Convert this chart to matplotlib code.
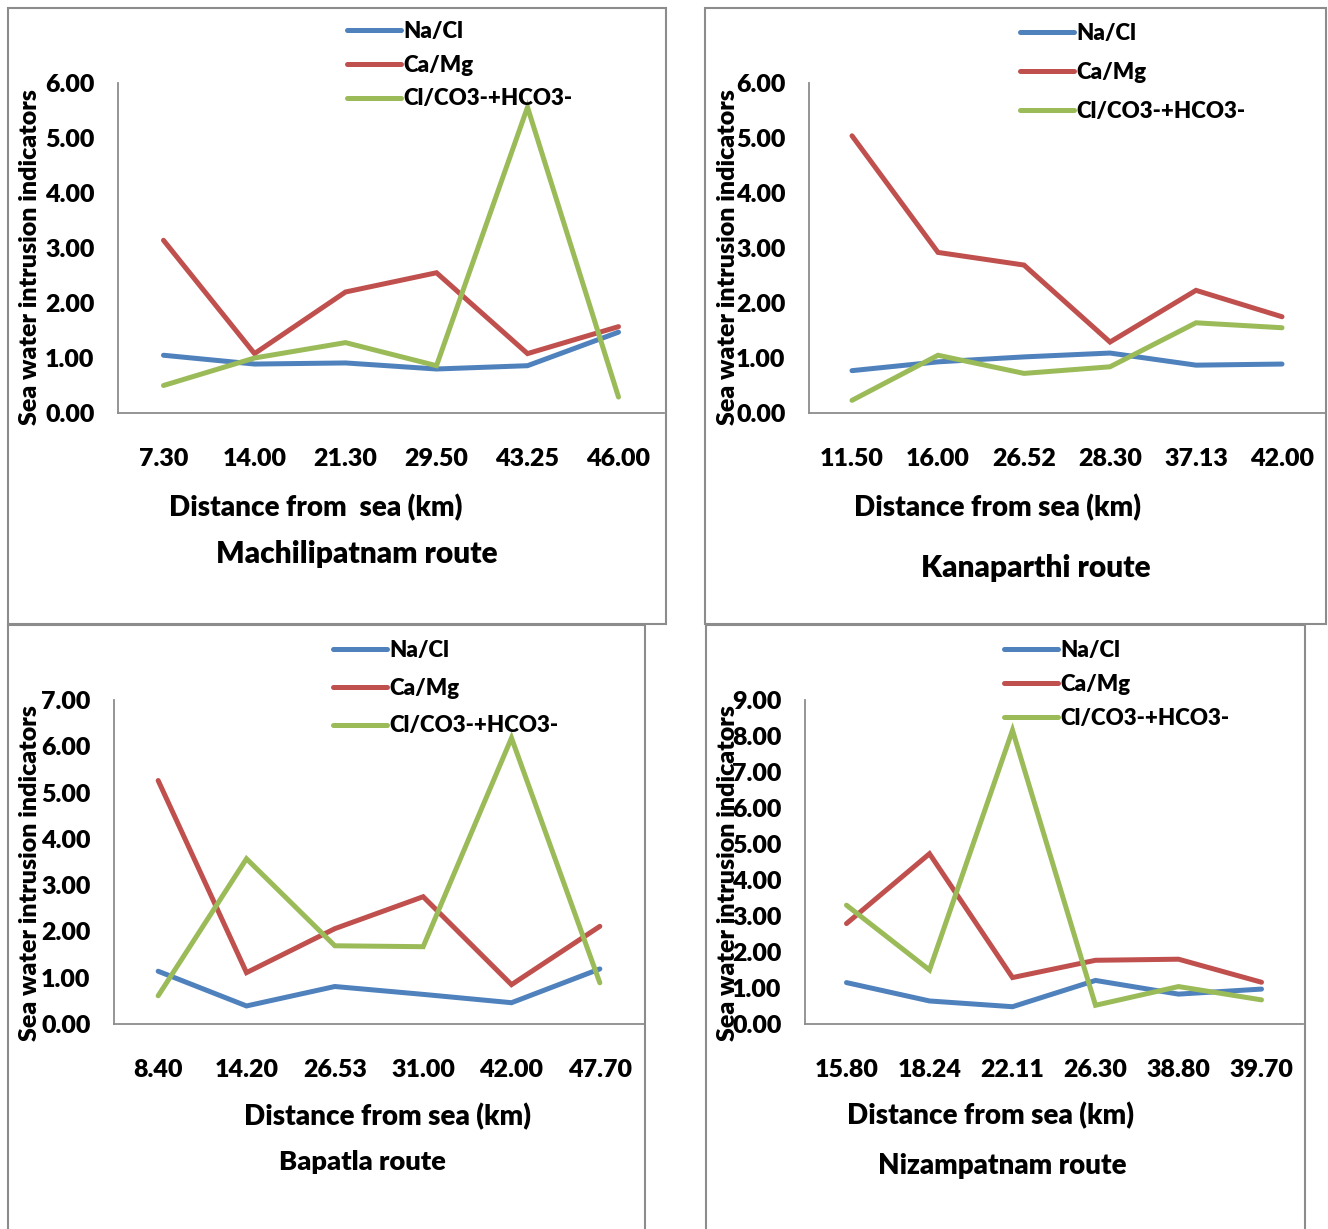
import matplotlib.pyplot as plt
from matplotlib.patches import Rectangle

# ---- dados ----
series_names = ['Na/Cl', 'Ca/Mg', 'Cl/CO3-+HCO3-']
series_colors = ['#4F81BD', '#C0504D', '#9BBB59']

mach_dist = ['7.30', '14.00', '21.30', '29.50', '43.25', '46.00']
mach_nacl = [1.05, 0.89, 0.91, 0.80, 0.86, 1.47]
mach_camg = [3.14, 1.08, 2.20, 2.55, 1.08, 1.57]
mach_clco3 = [0.50, 1.00, 1.28, 0.86, 5.56, 0.29]

kana_dist = ['11.50', '16.00', '26.52', '28.30', '37.13', '42.00']
kana_nacl = [0.77, 0.93, 1.02, 1.09, 0.87, 0.89]
kana_camg = [5.04, 2.92, 2.69, 1.29, 2.23, 1.75]
kana_clco3 = [0.23, 1.05, 0.72, 0.84, 1.64, 1.55]

bapa_dist = ['8.40', '14.20', '26.53', '31.00', '42.00', '47.70']
bapa_nacl = [1.14, 0.39, 0.81, 0.64, 0.46, 1.19]
bapa_camg = [5.26, 1.11, 2.06, 2.75, 0.85, 2.11]
bapa_clco3 = [0.61, 3.57, 1.69, 1.67, 6.18, 0.89]

niza_dist = ['15.80', '18.24', '22.11', '26.30', '38.80', '39.70']
niza_nacl = [1.15, 0.64, 0.48, 1.21, 0.83, 0.97]
niza_camg = [2.79, 4.73, 1.29, 1.77, 1.80, 1.16]
niza_clco3 = [3.30, 1.50, 8.16, 0.52, 1.04, 0.67]

W, H = 1328, 1229
PESO = 'heavy'
plt.rcParams.update({
    'font.family': ['Lato', 'DejaVu Sans'],
    'font.weight': PESO,
})

fig = plt.figure(figsize=(W / 100, H / 100), dpi=100)


def fx(px):
    return px / W


def fy(py):
    return 1 - py / H


def painel(box, eixo, dist, valores, ymax, xlabel, titulo, leg):
    # moldura do painel
    bl, bt, br, bb = box
    fig.add_artist(Rectangle((fx(bl), fy(bb)), (br - bl) / W, (bb - bt) / H,
                             transform=fig.transFigure, fill=False,
                             edgecolor='#8c8c8c', linewidth=1.5))
    l, t, r, b = eixo
    ax = fig.add_axes([fx(l), fy(b), (r - l) / W, (b - t) / H])
    x = range(len(dist))
    linhas = []
    for vals, cor, nome in zip(valores, series_colors, series_names):
        ln, = ax.plot(x, vals, color=cor, linewidth=3.6, label=nome,
                      solid_capstyle='round', solid_joinstyle='miter')
        ln.set_clip_on(False)
        linhas.append(ln)
    ax.set_xlim(-0.5, len(dist) - 0.5)
    ax.set_ylim(0, ymax)
    ax.set_xticks(list(x))
    ax.set_xticklabels(dist, fontweight=PESO)
    ax.set_yticks(range(0, ymax + 1))
    ax.set_yticklabels(['%.2f' % v for v in range(0, ymax + 1)], fontweight=PESO)
    ax.tick_params(length=0, labelsize=18)
    ax.tick_params(axis='x', pad=25)
    ax.tick_params(axis='y', pad=17)
    for s in ['top', 'right']:
        ax.spines[s].set_visible(False)
    for s in ['left', 'bottom']:
        ax.spines[s].set_color('#8c8c8c')
        ax.spines[s].set_linewidth(1.3)
    ax.patch.set_alpha(0)

    # rótulos e título
    yl = leg['ylab']
    fig.text(fx(yl[0]), fy(yl[1]), 'Sea water intrusion indicators', rotation=90,
             ha='center', va='center', fontsize=18, fontweight=PESO)
    xl = leg['xlab']
    fig.text(fx(xl[0]), fy(xl[1]), xlabel, ha='center', va='center',
             fontsize=20, fontweight=PESO)
    tt = leg['title']
    fig.text(fx(tt[0]), fy(tt[1]), titulo, ha='center', va='center',
             fontsize=leg['title_fs'], fontweight=PESO)

    # legenda
    lx, ly = leg['pos']
    fig.legend(handles=linhas, loc='upper left', bbox_to_anchor=(fx(lx), fy(ly)),
               bbox_transform=fig.transFigure, frameon=False,
               handlelength=2.45, handletextpad=0.1, borderpad=0, borderaxespad=0,
               labelspacing=leg['spacing'], prop={'weight': PESO, 'size': 16})
    return ax


painel((8, 8, 666, 624), (118, 83, 664, 413), mach_dist,
       [mach_nacl, mach_camg, mach_clco3], 6,
       'Distance from  sea (km)', 'Machilipatnam route',
       {'ylab': (30, 257), 'xlab': (316, 508), 'title': (357, 554), 'title_fs': 21.5,
        'pos': (347, 21), 'spacing': 0.57})

painel((705, 8, 1326, 624), (809, 83, 1325, 413), kana_dist,
       [kana_nacl, kana_camg, kana_clco3], 6,
       'Distance from sea (km)', 'Kanaparthi route',
       {'ylab': (728, 257), 'xlab': (997, 508), 'title': (1036, 568), 'title_fs': 21.5,
        'pos': (1020, 23), 'spacing': 0.8})

painel((8, 625, 645, 1232), (114, 700, 644, 1024), bapa_dist,
       [bapa_nacl, bapa_camg, bapa_clco3], 7,
       'Distance from sea (km)', 'Bapatla route',
       {'ylab': (30, 873), 'xlab': (387, 1117), 'title': (362, 1162), 'title_fs': 19.6,
        'pos': (333, 640), 'spacing': 0.75})

painel((706, 625, 1305, 1232), (805, 700, 1303, 1024), niza_dist,
       [niza_nacl, niza_camg, niza_clco3], 9,
       'Distance from sea (km)', 'Nizampatnam route',
       {'ylab': (728, 873), 'xlab': (991, 1116), 'title': (1002, 1166), 'title_fs': 19.9,
        'pos': (1004, 640), 'spacing': 0.58})

plt.savefig('out.png', dpi=100)
